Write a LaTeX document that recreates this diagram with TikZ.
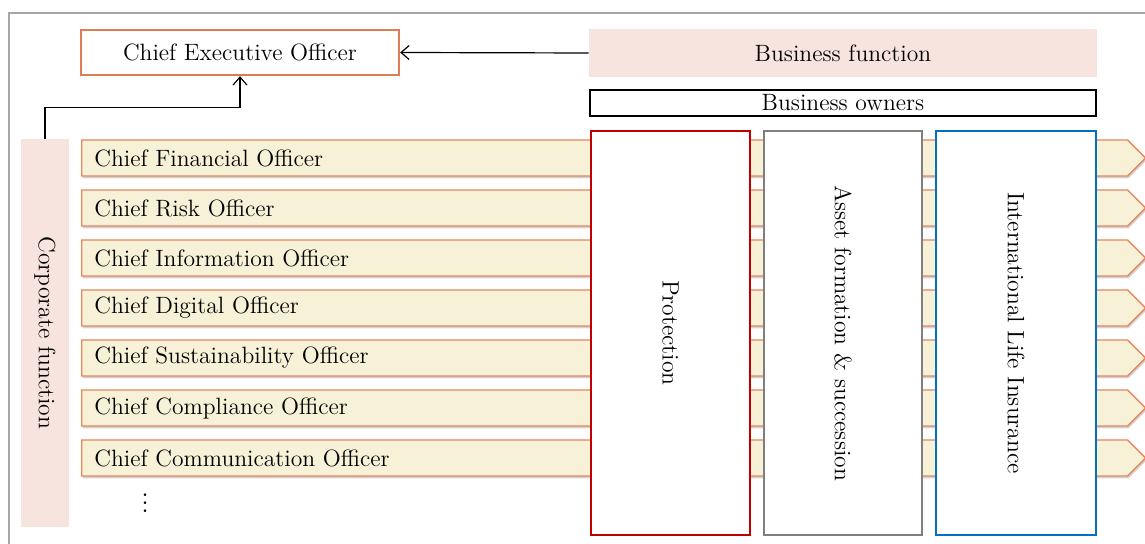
\documentclass[tikz,border=0pt]{standalone}
\usetikzlibrary{positioning,arrows.meta,shapes.symbols,shadows}
\definecolor{ceoorange}{HTML}{E07B54}
\definecolor{barorange}{HTML}{E6875E}
\definecolor{barfill}{HTML}{F7F1D7}
\definecolor{funcpink}{HTML}{F8E4DE}
\definecolor{protred}{HTML}{C00000}
\definecolor{assetgray}{HTML}{7F7F7F}
\definecolor{intlblue}{HTML}{0070C0}
\definecolor{framegray}{HTML}{A6A6A6}

\begin{document}
\begin{tikzpicture}[
    x=0.5pt, y=-0.5pt,
    >={Straight Barb[length=4pt, width=7pt]},
    every node/.style={font=\fontsize{11.8}{14}\selectfont, inner sep=0pt},
    ceobox/.style={
        draw=ceoorange, fill=white, line width=1.2pt,
        minimum width=159pt, minimum height=22.5pt
    },
    funcbox/.style={
        fill=funcpink, draw=none
    },
    officerbar/.style={
        shape=signal, signal to=east, signal from=nowhere,
        draw=barorange, fill=barfill, line width=0.7pt,
        minimum width=532pt, minimum height=18pt, anchor=west,
        drop shadow={shadow xshift=0.4pt, shadow yshift=-1.2pt, opacity=0.35}
    },
    unitbox/.style={
        draw=#1, fill=white, line width=1pt,
        minimum height=202pt
    },
    link/.style={->, line width=0.6pt, color=black},
]
\useasboundingbox (0,0) rectangle (1145,544);

% outer frame
\draw[framegray, line width=1pt] (1160,13) -- (9,13) -- (9,560);

% === Top: CEO and business function ===
\node[ceobox] (ceo) at (240,52.5) {Chief Executive Officer};
\node[funcbox, minimum width=254pt, minimum height=24pt] (busfunc) at (843,53) {Business function};
\node[draw=black, line width=0.6pt, minimum width=253pt, minimum height=13pt] (owners) at (843,103) {Business owners};

% === Left: corporate function ===
\node[funcbox, minimum width=24pt, minimum height=194pt] (corp) at (45,333) {};
\node[rotate=-90] (corplabel) at (corp.center) {Corporate function};

% Officer bars
\foreach \t [count=\i] in {Financial, Risk, Information, Digital, Sustainability, Compliance, Communication} {
    \node[officerbar] (bar\i) at (81,{158+50*(\i-1)}) {};
    \node[anchor=west, xshift=6.5pt] (lbl\i) at (bar\i.west) {Chief \t\ Officer};
}
\node[font=\fontsize{16}{18}\selectfont] (more) at (145,497) {$\vdots$};

% === Right: business units ===
\node[unitbox=protred, minimum width=79.5pt] (prot) at (670.5,333) {};
\node[unitbox=assetgray, minimum width=79pt] (asset) at (843,333) {};
\node[unitbox=intlblue, minimum width=80pt] (intl) at (1016,333) {};
\node[rotate=-90] (protlabel) at (prot.center) {Protection};
\node[rotate=-90] (assetlabel) at (asset.center) {Asset formation \& succession};
\node[rotate=-90] (intllabel) at (intl.center) {International Life Insurance};

% Arrows to CEO
\draw[link] (busfunc.west) -- (ceo.east);
\draw[link] (corp.north) -- ++(0,-31) -| (ceo.south);

\end{tikzpicture}
\end{document}
